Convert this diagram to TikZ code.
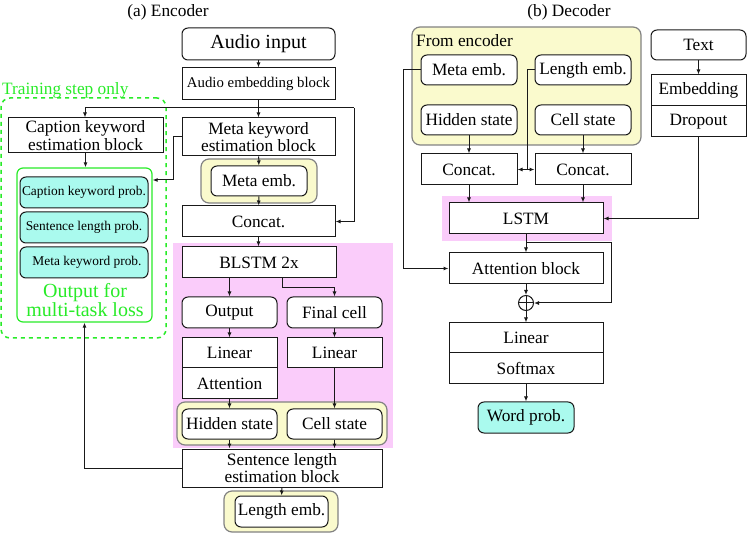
\documentclass[tikz,border=0pt]{standalone}
\usepackage{fontspec}
\setmainfont{Liberation Serif}
\usetikzlibrary{arrows.meta}
\definecolor{pinkbg}{RGB}{250,204,250}
\definecolor{yellowbg}{RGB}{250,250,205}
\definecolor{cyanbg}{RGB}{170,250,238}
\definecolor{grn}{RGB}{40,235,40}
\definecolor{lnc}{RGB}{25,25,25}
\definecolor{grayb}{RGB}{130,130,130}
\newcommand{\fsz}[1]{\fontsize{#1}{#1}\selectfont}
\newcommand{\mybox}[7]{\node[#1, minimum width=#4pt-#2pt, minimum height=#5pt-#3pt] (#6) at ({(#2+#4)/2},{(#3+#5)/2}) {#7};}
\tikzset{
  blk/.style={draw=lnc, line width=1pt, fill=white, inner sep=0pt, align=center, font=\fsz{17.3}},
  rbox/.style={blk, rounded corners=6pt},
  cbox/.style={rbox, fill=cyanbg, font=\fsz{13.4}},
  ygrp/.style={draw=grayb, line width=1.2pt, fill=yellowbg, rounded corners=8pt, inner sep=0pt},
  ggrp/.style={draw=grn, line width=1.2pt, fill=white, rounded corners=6pt, inner sep=0pt},
  dgrp/.style={draw=grn, line width=1.5pt, dash pattern=on 4pt off 4pt, rounded corners=9pt, inner sep=0pt},
  arr/.style={draw=lnc, line width=1pt, -{Latex[length=5pt,width=4pt]}},
  plain/.style={draw=lnc, line width=1pt},
  ttl/.style={font=\fsz{17.3}, inner sep=0pt}
}
\begin{document}
\begin{tikzpicture}[x=1pt,y=-1pt]
\useasboundingbox (0,0) rectangle (747,534);
% titles
\node[ttl] (ta) at (168,12) {(a) Encoder};
\node[ttl] (tb) at (569,12) {(b) Decoder};
% ---------- Encoder backgrounds
\fill[pinkbg] (173,243) rectangle (393,448);
% left training group
\mybox{dgrp}{1}{98}{166}{338}{tgrp}{}
\node[ttl, anchor=west, text=grn] (tso) at (2,90) {Training step only};
\mybox{blk}{8}{118}{163}{153}{ckw}{Caption keyword\\estimation block}
\mybox{ggrp}{17}{168}{152}{322}{outgrp}{}
\mybox{cbox}{20}{177}{148}{208}{p1}{Caption keyword prob.}
\mybox{cbox}{20}{212}{148}{243}{p2}{Sentence length prob.}
\mybox{cbox}{20}{247}{148}{278}{p3}{\hspace*{6pt}Meta keyword prob.}
\node[text=grn, align=center, inner sep=0pt, font={\fontsize{20}{19.5}\selectfont}] (otxt) at (85,300) {Output for\\multi-task loss};
% encoder column
\mybox{rbox, font=\fsz{20}}{182}{28}{335}{60}{ain}{Audio input}
\mybox{blk, font=\fsz{14.8}}{182}{68}{335}{100}{aemb}{Audio embedding block}
\mybox{blk}{182}{118}{335}{156}{mkw}{Meta keyword\\estimation block}
\mybox{ygrp}{201}{159}{317}{203}{mgrp}{}
\mybox{rbox}{211}{166}{307}{196}{memb}{Meta emb.}
\mybox{blk}{182}{206}{335}{237}{conc}{Concat.}
\mybox{blk}{182}{247}{336}{278}{blstm}{BLSTM 2x}
\mybox{rbox}{182}{297}{277}{328}{outp}{Output}
\mybox{rbox}{287}{297}{382}{328}{fcell}{Final cell}
\mybox{blk}{182}{338}{277}{368}{linL}{Linear}
\mybox{blk}{182}{368}{277}{399}{attL}{Attention}
\mybox{blk}{287}{338}{382}{368}{linR}{Linear}
\mybox{ygrp}{177}{402}{387}{445}{hgrp}{}
\mybox{rbox}{182}{409}{277}{439}{hid}{Hidden state}
\mybox{rbox}{287}{409}{382}{439}{cell}{Cell state}
\mybox{blk}{182}{449}{382}{487}{slen}{Sentence length\\estimation block}
\mybox{ygrp}{224}{491}{338}{532}{lgrp}{}
\mybox{rbox}{235}{496}{328}{527}{lemb}{Length emb.}
% encoder connectors
\coordinate (jL) at (85,108);
\coordinate (jR) at (354,108);
\coordinate (k1) at (173,180);
\coordinate (b1) at (282,288);
\draw[arr] (ain) -- (aemb);
\draw[arr] (aemb) -- (mkw);
\draw[plain] (jL) -- (jR);
\draw[arr] (jL) -- (jL |- ckw.north);
\draw[arr] (jR) |- (conc.east);
\draw[arr] (ckw) -- (ckw |- outgrp.north);
\draw[arr] (mkw.west) -| (k1) -- (k1 -| outgrp.east);
\draw[arr] (mkw) -- (memb);
\draw[arr] (memb) -- (conc);
\draw[arr] (conc) -- (conc |- blstm.north);
\draw[arr] (outp |- blstm.south) -- (outp);
\draw[arr] (b1 |- blstm.south) -- (b1) -| (fcell.north);
\draw[arr] (outp) -- (linL);
\draw[arr] (fcell) -- (linR);
\draw[arr] (attL) -- (hid);
\draw[arr] (linR) -- (cell);
\draw[arr] (hid) -- (hid |- slen.north);
\draw[arr] (cell) -- (cell |- slen.north);
\draw[arr] (slen.west) -| (outgrp.south);
\draw[arr] (slen) -- (lemb);
% ---------- Decoder
\mybox{ygrp}{412}{27}{641}{145}{fgrp}{}
\node[ttl, anchor=west] (fe) at (416,41) {From encoder};
\mybox{rbox}{421}{55}{517}{85}{membD}{Meta emb.}
\mybox{rbox}{535}{55}{631}{85}{lembD}{Length emb.}
\mybox{rbox}{421}{105}{517}{135}{hidD}{Hidden state}
\mybox{rbox}{535}{105}{631}{135}{cellD}{Cell state}
\mybox{blk}{421}{154}{517}{185}{concL}{Concat.}
\mybox{blk}{535}{154}{631}{185}{concR}{Concat.}
\mybox{rbox}{651}{30}{746}{60}{txt}{Text}
\mybox{blk}{651}{75}{746}{106}{emb}{Embedding}
\mybox{blk}{651}{106}{746}{137}{drop}{Dropout}
\fill[pinkbg] (442,196) rectangle (612,241);
\mybox{blk}{449}{203}{603}{234}{lstm}{LSTM}
\mybox{blk}{449}{253}{603}{284}{attn}{Attention block}
\node[draw=lnc, line width=1pt, circle, minimum size=15pt, inner sep=0pt] (oplus) at (526,303) {};
\draw[plain] (oplus.north) -- (oplus.south);
\draw[plain] (oplus.west) -- (oplus.east);
\mybox{blk}{449}{323}{603}{353}{lin2}{Linear}
\mybox{blk}{449}{353}{603}{384}{soft}{Softmax}
\mybox{cbox, font=\fsz{17.3}}{478}{402}{574}{433}{word}{Word prob.}
% decoder connectors
\coordinate (d1) at (527,169.5);
\coordinate (d2) at (403,268.5);
\coordinate (d3) at (611,243);
\draw[arr] (hidD) -- (concL);
\draw[arr] (cellD) -- (concR);
\draw[plain] (lembD.west) -| (d1);
\draw[arr] (d1) -- (concL.east);
\draw[arr] (d1) -- (concR.west);
\draw[arr] (membD.west) -| (d2) -- (attn.west);
\draw[arr] (txt) -- (emb);
\draw[arr] (drop) |- (lstm.east);
\draw[arr] (concL) -- (concL |- lstm.north);
\draw[arr] (concR) -- (concR |- lstm.north);
\draw[arr] (lstm) -- (attn);
\draw[arr] (lstm.south |- d3) -- (d3) |- (oplus.east);
\draw[arr] (attn) -- (oplus);
\draw[arr] (oplus) -- (lin2);
\draw[arr] (soft) -- (word);
\end{tikzpicture}
\end{document}
